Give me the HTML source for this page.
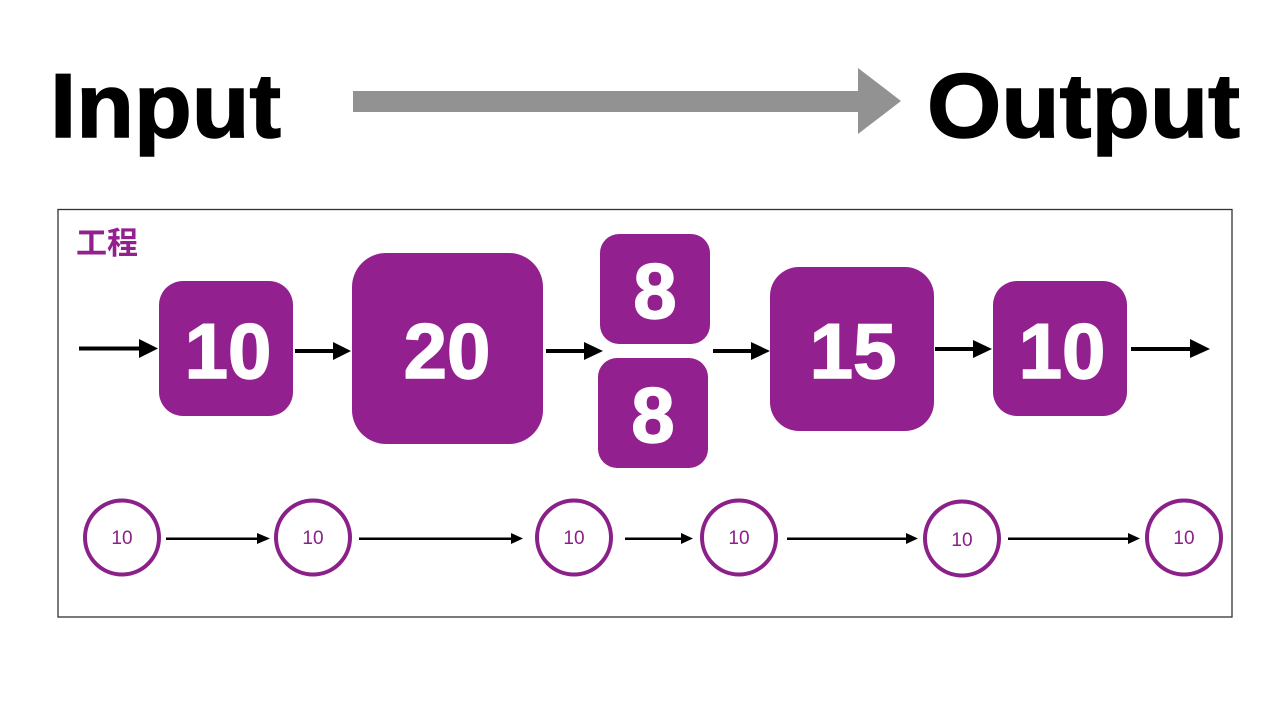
<!DOCTYPE html>
<html><head><meta charset="utf-8"><style>
html,body{margin:0;padding:0;background:#fff;width:1280px;height:720px;overflow:hidden}
svg{display:block}
text{font-family:"Liberation Sans","Noto Sans CJK JP",sans-serif}
.n{font-weight:bold;fill:#fff;stroke:#fff;stroke-width:1.500;font-size:78px;text-anchor:middle}
.c{fill:#8a2088;font-size:19px;text-anchor:middle}
.o{fill:#fff;stroke:#8a2088;stroke-width:4}
.b{fill:#93208f}
</style></head><body>
<svg width="1280" height="720" viewBox="0 0 1280 720" xmlns="http://www.w3.org/2000/svg">
<rect width="1280" height="720" fill="#fff"/>
<text x="50" y="137" font-size="91" font-weight="bold" stroke="#000" stroke-width="1.500" textLength="231" lengthAdjust="spacingAndGlyphs" fill="#000">Input</text>
<text x="927" y="137" font-size="91" font-weight="bold" stroke="#000" stroke-width="1.500" textLength="313" lengthAdjust="spacingAndGlyphs" fill="#000">Output</text>
<polygon points="353,91 858,91 858,68 901,101 858,134 858,112 353,112" fill="#929292"/>
<rect x="58" y="209.500" width="1174" height="407.500" fill="#fff" stroke="#333" stroke-width="1.300"/>
<text x="76" y="254" font-size="31" font-weight="bold" fill="#93208f" textLength="62">工程</text>

<rect class="b" x="159" y="281" width="134" height="135" rx="24"/>
<rect class="b" x="352" y="253" width="191" height="191" rx="34"/>
<rect class="b" x="600" y="234" width="110" height="110" rx="19"/>
<rect class="b" x="598" y="358" width="110" height="110" rx="19"/>
<rect class="b" x="770" y="267" width="164" height="164" rx="29"/>
<rect class="b" x="993" y="281" width="134" height="135" rx="24"/>
<text class="n" x="228" y="378">10</text>
<text class="n" x="447" y="378">20</text>
<text class="n" x="655" y="318">8</text>
<text class="n" x="653" y="442">8</text>
<text class="n" x="853" y="378">15</text>
<text class="n" x="1062" y="378">10</text>

<g fill="#000">
<rect x="79" y="346.500" width="62" height="4"/><polygon points="139,339 158,348.500 139,358"/>
<rect x="295" y="349" width="40" height="4"/><polygon points="333,342 351,351 333,360"/>
<rect x="546" y="349" width="40" height="4"/><polygon points="584,342 603,351 584,360"/>
<rect x="713" y="349" width="40" height="4"/><polygon points="751,342 770,351 751,360"/>
<rect x="935" y="347" width="40" height="4"/><polygon points="973,340 992,349 973,358"/>
<rect x="1131" y="347" width="62" height="4"/><polygon points="1190,339 1210,349 1190,358"/>
<rect x="166" y="537.500" width="93" height="2.500"/><polygon points="257,533 270,538.500 257,544"/>
<rect x="359" y="537.500" width="154" height="2.500"/><polygon points="511,533 523,538.500 511,544"/>
<rect x="625" y="537.500" width="58" height="2.500"/><polygon points="681,533 693,538.500 681,544"/>
<rect x="787" y="537.500" width="121" height="2.500"/><polygon points="906,533 918,538.500 906,544"/>
<rect x="1008" y="537.500" width="122" height="2.500"/><polygon points="1128,533 1140,538.500 1128,544"/>
</g>

<circle class="o" cx="122" cy="537.500" r="37"/>
<circle class="o" cx="313" cy="537.500" r="37"/>
<circle class="o" cx="574" cy="537.500" r="37"/>
<circle class="o" cx="739" cy="537.500" r="37"/>
<circle class="o" cx="962" cy="538.500" r="37"/>
<circle class="o" cx="1184" cy="537.500" r="37"/>
<text class="c" x="122" y="544">10</text>
<text class="c" x="313" y="544">10</text>
<text class="c" x="574" y="544">10</text>
<text class="c" x="739" y="544">10</text>
<text class="c" x="962" y="546">10</text>
<text class="c" x="1184" y="544">10</text>
</svg>
</body></html>
